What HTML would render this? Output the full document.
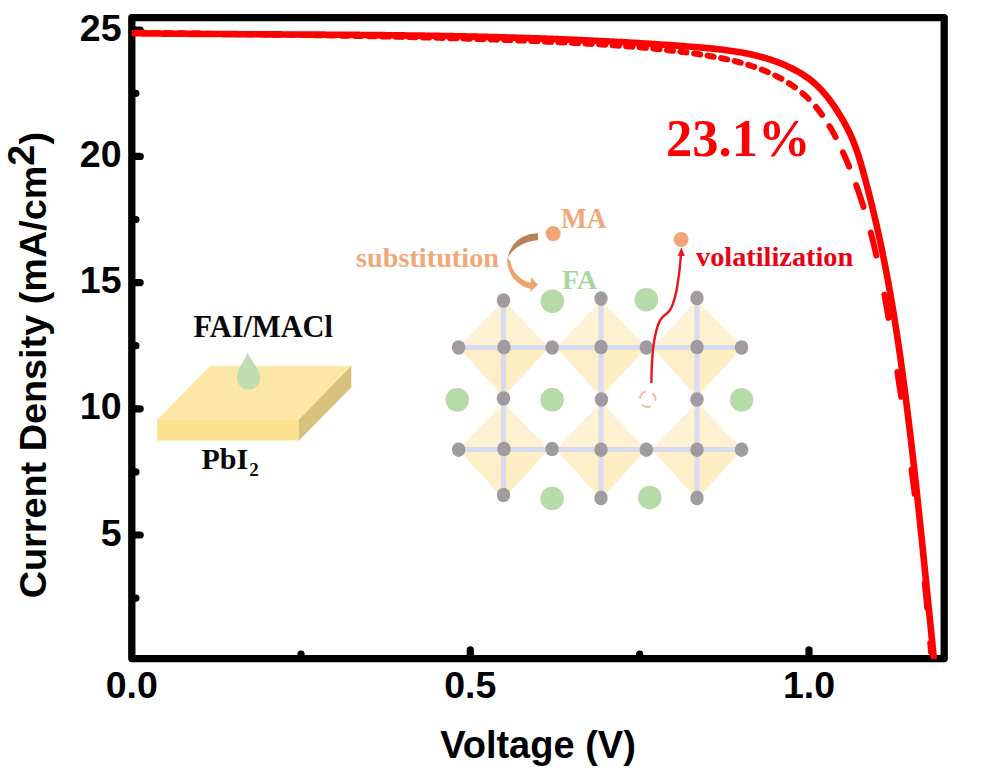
<!DOCTYPE html>
<html><head><meta charset="utf-8"><style>
html,body{margin:0;padding:0;background:#fff;}
svg{display:block;}
.sans{font-family:"Liberation Sans",sans-serif;font-weight:bold;}
.serif{font-family:"Liberation Serif",serif;font-weight:bold;}
</style></head><body>
<svg width="1003" height="773" viewBox="0 0 1003 773">
<rect width="1003" height="773" fill="#fff"/>
<!-- slab -->
<polygon points="210.2,365.8 351.3,365.8 299,419.4 157.2,419.4" fill="#FCE7A6"/>
<polygon points="157.2,419.4 299,419.4 299,440.5 157.2,440.5" fill="#FCDF8F"/>
<polygon points="299,419.4 351.3,365.8 351.3,387.2 299,440.5" fill="#D8C07D"/>
<path d="M247.6,352 C249.5,359 260.2,369 260.2,378 A11.6,11.6 0 1 1 237,378 C237,369 245.7,359 247.6,352 Z" fill="#BEDDB2"/>
<text class="serif" x="193.5" y="336.6" font-size="31" textLength="139.5" lengthAdjust="spacingAndGlyphs" fill="#0A0A0A">FAI/MACl</text>
<text class="serif" x="201.5" y="468.8" font-size="30" fill="#0A0A0A">PbI<tspan font-size="19" dx="1" dy="6.8">2</tspan></text>
<!-- lattice -->
<g><polygon points="458.5,347.5 503.5,300.5 503.5,347.5" fill="#FFF2D4"/><polygon points="503.5,300.5 549.0,347.5 503.5,347.5" fill="#FFF1D0"/><polygon points="549.0,347.5 503.5,397.0 503.5,347.5" fill="#FFEDC3"/><polygon points="503.5,397.0 458.5,347.5 503.5,347.5" fill="#FFEEC8"/><polygon points="458.5,449.5 503.5,402.5 503.5,449.5" fill="#FFF2D4"/><polygon points="503.5,402.5 549.0,449.5 503.5,449.5" fill="#FFF1D0"/><polygon points="549.0,449.5 503.5,499.0 503.5,449.5" fill="#FFEDC3"/><polygon points="503.5,499.0 458.5,449.5 503.5,449.5" fill="#FFEEC8"/><polygon points="556.0,347.5 601.0,300.5 601.0,347.5" fill="#FFF2D4"/><polygon points="601.0,300.5 646.5,347.5 601.0,347.5" fill="#FFF1D0"/><polygon points="646.5,347.5 601.0,397.0 601.0,347.5" fill="#FFEDC3"/><polygon points="601.0,397.0 556.0,347.5 601.0,347.5" fill="#FFEEC8"/><polygon points="556.0,449.5 601.0,402.5 601.0,449.5" fill="#FFF2D4"/><polygon points="601.0,402.5 646.5,449.5 601.0,449.5" fill="#FFF1D0"/><polygon points="646.5,449.5 601.0,499.0 601.0,449.5" fill="#FFEDC3"/><polygon points="601.0,499.0 556.0,449.5 601.0,449.5" fill="#FFEEC8"/><polygon points="652.0,347.5 697.0,300.5 697.0,347.5" fill="#FFF2D4"/><polygon points="697.0,300.5 742.5,347.5 697.0,347.5" fill="#FFF1D0"/><polygon points="742.5,347.5 697.0,397.0 697.0,347.5" fill="#FFEDC3"/><polygon points="697.0,397.0 652.0,347.5 697.0,347.5" fill="#FFEEC8"/><polygon points="652.0,449.5 697.0,402.5 697.0,449.5" fill="#FFF2D4"/><polygon points="697.0,402.5 742.5,449.5 697.0,449.5" fill="#FFF1D0"/><polygon points="742.5,449.5 697.0,499.0 697.0,449.5" fill="#FFEDC3"/><polygon points="697.0,499.0 652.0,449.5 697.0,449.5" fill="#FFEEC8"/></g>
<g stroke="#D7DBEE" stroke-width="5.2"><line x1="458.6" y1="347.5" x2="741.6" y2="347.5"/><line x1="458.6" y1="449.5" x2="741.6" y2="449.5"/><line x1="503.5" y1="300" x2="503.5" y2="498"/><line x1="601" y1="300" x2="601" y2="498"/><line x1="697" y1="300" x2="697" y2="498"/></g>
<g fill="#A09B9E"><ellipse cx="503.5" cy="300.5" rx="6.7" ry="7.3"/><ellipse cx="601" cy="298.6" rx="6.7" ry="7.3"/><ellipse cx="697" cy="298" rx="6.7" ry="7.3"/><ellipse cx="458.6" cy="347.5" rx="6.7" ry="7.3"/><ellipse cx="504" cy="347" rx="6.7" ry="7.3"/><ellipse cx="552.1" cy="347.5" rx="6.7" ry="7.3"/><ellipse cx="601" cy="347" rx="6.7" ry="7.3"/><ellipse cx="646.3" cy="347.5" rx="6.7" ry="7.3"/><ellipse cx="697" cy="347" rx="6.7" ry="7.3"/><ellipse cx="741.6" cy="347.5" rx="6.7" ry="7.3"/><ellipse cx="503.5" cy="398.5" rx="6.7" ry="7.3"/><ellipse cx="601.5" cy="399.5" rx="6.7" ry="7.3"/><ellipse cx="697" cy="399.5" rx="6.7" ry="7.3"/><ellipse cx="458.6" cy="449.7" rx="6.7" ry="7.3"/><ellipse cx="504" cy="449" rx="6.7" ry="7.3"/><ellipse cx="552.1" cy="449" rx="6.7" ry="7.3"/><ellipse cx="601" cy="449.7" rx="6.7" ry="7.3"/><ellipse cx="646.3" cy="449.7" rx="6.7" ry="7.3"/><ellipse cx="697" cy="449.7" rx="6.7" ry="7.3"/><ellipse cx="741.6" cy="449.7" rx="6.7" ry="7.3"/><ellipse cx="503.5" cy="495" rx="6.7" ry="7.3"/><ellipse cx="601" cy="498" rx="6.7" ry="7.3"/><ellipse cx="697" cy="498" rx="6.7" ry="7.3"/></g>
<g fill="#B6DAA8"><circle cx="552.3" cy="301.2" r="11.8"/><circle cx="646.3" cy="299.7" r="11.8"/><circle cx="457.2" cy="399.8" r="11.8"/><circle cx="552.1" cy="399.8" r="11.8"/><circle cx="741.6" cy="399.8" r="11.8"/><circle cx="552.1" cy="498.5" r="11.8"/><circle cx="649.8" cy="497.5" r="11.8"/></g>
<circle cx="647.7" cy="399.2" r="7.8" fill="none" stroke="#F2B49C" stroke-width="1.8" stroke-dasharray="9.26 7.07" stroke-dashoffset="7.35"/>
<!-- substitution arrow -->
<path d="M538,233.2 C524,233.5 511,241 507.5,258.5 C512,249 524,240.6 538,240.2 Z" fill="#B98158"/>
<path d="M507.3,257.5 C506,272 515.5,285.5 531,289 L531,282.8 C520.5,280.5 512,272.5 510.3,261 Z" fill="#F0A46C"/>
<path d="M537.8,284.7 L530.8,277.2 L530.4,292 Z" fill="#F0A46C"/>
<circle cx="553.2" cy="233.6" r="7.5" fill="#F3A574"/>
<text class="serif" x="356" y="266.5" font-size="26.8" textLength="143" lengthAdjust="spacingAndGlyphs" fill="#F0A878">substitution</text>
<text class="serif" x="561" y="227.6" font-size="30" textLength="45.5" lengthAdjust="spacingAndGlyphs" fill="#F0A878">MA</text>
<text class="serif" x="562" y="288.8" font-size="28" fill="#A9D59F">FA</text>
<!-- volatilization -->
<circle cx="681.1" cy="239.4" r="7.5" fill="#F3A574"/>
<path d="M651.4,383 C651.5,360 653,338 658.6,323.5 C661,317 664,315.5 667.5,313 C672,309 675,300 677.5,285 C679.5,273 680.5,262 681,254" fill="none" stroke="#E8141E" stroke-width="2.4"/>
<path d="M681.4,247.3 L677.8,256 L684.8,256 Z" fill="#E8141E"/>
<text class="serif" x="696" y="266" font-size="28.3" fill="#EC0012">volatilization</text>
<text class="serif" x="666" y="156" font-size="52.5" fill="#FC0004">23.1%</text>
<!-- frame -->
<rect x="131.8" y="17.6" width="812.4" height="641" fill="none" stroke="#000" stroke-width="7.3" stroke-linejoin="round"/>
<g stroke="#000" stroke-width="7.2" stroke-linecap="round"><line x1="133" y1="30.2" x2="140.2" y2="30.2"/><line x1="133" y1="156.4" x2="140.2" y2="156.4"/><line x1="133" y1="282.6" x2="140.2" y2="282.6"/><line x1="133" y1="408.8" x2="140.2" y2="408.8"/><line x1="133" y1="535.0" x2="140.2" y2="535.0"/><line x1="133" y1="93.3" x2="135.9" y2="93.3"/><line x1="133" y1="219.5" x2="135.9" y2="219.5"/><line x1="133" y1="345.7" x2="135.9" y2="345.7"/><line x1="133" y1="471.9" x2="135.9" y2="471.9"/><line x1="133" y1="598.1" x2="135.9" y2="598.1"/><line x1="470.3" y1="657" x2="470.3" y2="649.8"/><line x1="809.0" y1="657" x2="809.0" y2="649.8"/><line x1="301.0" y1="657" x2="301.0" y2="654.2"/><line x1="639.7" y1="657" x2="639.7" y2="654.2"/></g>
<!-- curves -->
<clipPath id="pc"><rect x="131.7" y="0" width="812.5" height="659"/></clipPath>
<g clip-path="url(#pc)">
<path d="M138.49,32.71 140.18,32.74 141.87,32.77 143.56,32.79 144.62,32.81 M152.03,32.92 153.72,32.95 155.41,32.97 157.11,33.00 158.16,33.01 M165.57,33.12 167.26,33.15 168.96,33.17 170.65,33.20 171.71,33.21 M179.12,33.32 180.81,33.34 182.51,33.37 184.20,33.39 185.26,33.40 M192.67,33.51 194.37,33.53 196.06,33.55 197.76,33.58 198.82,33.59 M206.23,33.69 207.93,33.72 209.62,33.74 211.32,33.76 212.38,33.78 M219.79,33.88 221.49,33.90 223.19,33.92 224.88,33.95 225.94,33.96 M233.36,34.06 235.06,34.08 236.75,34.11 238.45,34.13 239.30,34.14 M246.93,34.24 248.63,34.27 250.32,34.29 252.02,34.31 252.87,34.33 M260.50,34.43 262.20,34.45 263.89,34.48 265.59,34.50 266.44,34.51 M273.86,34.62 275.56,34.64 277.26,34.67 278.95,34.69 280.01,34.71 M287.44,34.81 289.13,34.84 290.83,34.86 292.53,34.89 293.59,34.91 M301.01,35.02 302.71,35.04 304.41,35.07 306.10,35.10 307.17,35.11 M314.59,35.23 316.29,35.26 317.99,35.28 319.68,35.31 320.74,35.33 M328.17,35.45 329.87,35.48 331.56,35.51 333.26,35.54 334.32,35.55 M341.75,35.68 343.45,35.71 345.14,35.74 346.84,35.77 347.69,35.79 M355.33,35.93 357.02,35.96 358.72,35.99 360.42,36.02 361.27,36.04 M368.90,36.19 370.60,36.22 372.30,36.26 374.00,36.29 374.84,36.31 M382.27,36.46 383.97,36.50 385.66,36.53 387.36,36.57 388.42,36.59 M395.84,36.75 397.54,36.79 399.24,36.83 400.93,36.87 401.99,36.89 M409.42,37.07 411.11,37.11 412.81,37.15 414.51,37.19 415.57,37.21 M422.99,37.40 424.69,37.44 426.38,37.48 428.08,37.53 429.14,37.56 M436.56,37.75 438.25,37.80 439.95,37.84 441.65,37.89 442.71,37.92 M450.12,38.13 451.82,38.18 453.51,38.23 455.21,38.28 456.27,38.31 M463.69,38.53 465.38,38.58 467.08,38.64 468.77,38.69 469.83,38.72 M477.25,38.96 478.94,39.02 480.63,39.07 482.33,39.13 483.39,39.16 M490.80,39.42 492.49,39.48 494.19,39.54 495.88,39.60 496.94,39.63 M504.35,39.90 506.04,39.97 507.74,40.03 509.43,40.09 510.49,40.13 M517.89,40.42 519.59,40.49 521.28,40.55 522.97,40.62 524.03,40.66 M531.43,40.97 533.13,41.04 534.82,41.11 536.51,41.18 537.57,41.23 M544.97,41.55 546.66,41.63 548.35,41.70 550.04,41.78 551.10,41.83 M558.49,42.17 560.18,42.25 561.88,42.33 563.57,42.41 564.62,42.46 M572.02,42.83 573.70,42.91 575.39,43.00 577.08,43.09 578.14,43.14 M585.53,43.54 587.22,43.63 588.91,43.73 590.60,43.82 591.65,43.88 M599.25,44.33 600.94,44.44 602.62,44.55 604.31,44.65 605.16,44.71 M612.75,45.21 614.44,45.33 616.12,45.45 617.81,45.57 618.87,45.65 M626.25,46.20 627.93,46.34 629.62,46.47 631.31,46.61 632.36,46.69 M639.74,47.32 641.42,47.48 643.11,47.63 644.79,47.78 645.85,47.88 M653.43,48.62 655.12,48.79 656.80,48.96 658.49,49.14 659.54,49.25 M666.91,50.06 668.60,50.26 670.28,50.45 671.97,50.65 673.02,50.78 M680.39,51.69 682.07,51.91 683.75,52.13 685.44,52.36 686.49,52.50 M694.07,53.57 695.75,53.81 697.43,54.06 699.12,54.32 700.17,54.48 M707.53,55.64 709.21,55.92 710.89,56.21 712.57,56.50 713.63,56.69 M721.18,58.11 722.85,58.45 724.53,58.79 726.20,59.15 727.24,59.37 M734.75,61.12 736.21,61.49 737.66,61.86 739.11,62.24 740.57,62.64 740.77,62.69 M748.20,64.87 749.64,65.32 751.07,65.79 752.50,66.26 753.93,66.74 754.33,66.88 M761.79,69.62 763.38,70.26 764.96,70.90 766.54,71.56 767.92,72.15 M775.26,75.56 776.78,76.32 778.28,77.09 779.78,77.89 781.27,78.69 781.45,78.80 M788.87,83.20 790.28,84.11 791.67,85.04 793.05,85.98 794.42,86.94 794.93,87.31 M802.45,93.21 803.70,94.30 804.94,95.41 806.16,96.53 807.36,97.68 808.54,98.84 M815.96,106.96 817.02,108.25 818.07,109.55 819.09,110.86 820.11,112.19 821.11,113.53 822.09,114.89 M829.50,126.17 830.37,127.62 831.22,129.09 832.07,130.57 832.91,132.05 833.73,133.54 834.54,135.04 835.35,136.55 835.64,137.12 M843.03,152.35 843.64,153.72 844.25,155.09 844.86,156.46 845.54,158.03 846.22,159.61 846.89,161.18 847.55,162.76 848.21,164.34 848.86,165.92 849.18,166.71 M856.18,185.02 856.75,186.62 857.31,188.22 857.87,189.83 858.42,191.43 858.97,193.04 859.52,194.65 860.05,196.26 860.58,197.87 861.11,199.48 861.63,201.10 862.15,202.71 862.66,204.33 863.16,205.95 863.48,206.96 M870.76,232.63 871.19,234.27 871.61,235.91 872.03,237.55 872.44,239.19 872.85,240.84 873.26,242.48 873.66,244.13 874.06,245.77 874.45,247.42 874.84,249.07 875.23,250.72 875.61,252.37 875.99,254.02 876.32,255.46 M884.36,294.69 884.67,296.36 884.97,298.03 885.28,299.70 885.58,301.37 885.88,303.04 886.18,304.71 886.48,306.38 886.78,308.05 887.07,309.72 887.37,311.39 887.66,313.06 887.95,314.73 888.24,316.41 888.49,317.87 M897.33,372.09 897.60,373.76 897.86,375.44 898.12,377.11 898.38,378.79 898.64,380.47 898.90,382.14 899.16,383.82 899.42,385.50 899.68,387.17 899.93,388.85 900.19,390.52 900.44,392.20 900.70,393.88 900.95,395.55 901.14,396.81 M911.51,469.61 911.73,471.29 911.95,472.97 912.17,474.65 912.40,476.33 912.62,478.02 912.84,479.70 913.05,481.38 913.27,483.06 913.49,484.74 913.71,486.42 913.92,488.10 914.14,489.78 914.35,491.46 914.56,493.15 914.67,493.99 M924.80,583.05 924.97,584.74 925.14,586.42 925.31,588.11 925.47,589.80 925.64,591.49 925.81,593.18 925.97,594.86 926.13,596.55 926.29,598.24 926.46,599.93 926.62,601.62 926.78,603.31 926.93,605.00 927.09,606.69 927.21,607.95 M930.26,643.04 930.40,644.73 930.53,646.42 930.67,648.11 930.80,649.81 930.94,651.50 930.97,651.92" fill="none" stroke="#FF0000" stroke-width="6" stroke-linecap="round" stroke-linejoin="round"/>
<path d="M131.47,33.21 133.19,33.23 134.92,33.25 136.64,33.28 138.37,33.30 140.09,33.32 141.82,33.34 143.54,33.37 145.26,33.39 146.99,33.41 148.71,33.43 150.44,33.45 152.16,33.47 153.88,33.49 155.61,33.51 157.33,33.53 159.05,33.55 160.78,33.56 162.50,33.58 164.22,33.60 165.95,33.62 167.67,33.64 169.39,33.65 171.12,33.67 172.84,33.69 174.56,33.70 176.28,33.72 178.01,33.74 179.73,33.75 181.45,33.77 183.17,33.78 184.90,33.80 186.62,33.81 188.34,33.83 190.06,33.84 191.79,33.86 193.51,33.87 195.23,33.88 196.95,33.90 198.67,33.91 200.39,33.92 202.12,33.94 203.84,33.95 205.56,33.96 207.28,33.98 209.00,33.99 210.72,34.00 212.44,34.01 214.17,34.02 215.89,34.04 217.61,34.05 219.33,34.06 221.05,34.07 222.77,34.08 224.49,34.09 226.21,34.10 227.93,34.11 229.65,34.13 231.37,34.14 233.09,34.15 234.81,34.16 236.54,34.17 238.26,34.18 239.98,34.19 241.70,34.20 243.42,34.21 245.14,34.22 246.86,34.23 248.58,34.24 250.30,34.25 252.02,34.26 253.74,34.27 255.46,34.28 257.17,34.29 258.89,34.30 260.61,34.31 262.33,34.31 264.05,34.32 265.77,34.33 267.49,34.34 269.21,34.35 270.93,34.36 272.65,34.37 274.37,34.38 276.09,34.39 277.81,34.40 279.53,34.41 281.25,34.42 282.96,34.43 284.68,34.44 286.40,34.45 288.12,34.46 289.84,34.47 291.56,34.47 293.28,34.48 295.00,34.49 296.71,34.50 298.43,34.51 300.15,34.52 301.87,34.53 303.59,34.54 305.31,34.55 307.03,34.56 308.74,34.57 310.46,34.58 312.18,34.59 313.90,34.60 315.62,34.62 317.34,34.63 319.05,34.64 320.77,34.65 322.49,34.66 324.21,34.67 325.93,34.68 327.64,34.69 329.36,34.70 331.08,34.72 332.80,34.73 334.52,34.74 336.23,34.75 337.95,34.76 339.67,34.78 341.39,34.79 343.11,34.80 344.82,34.81 346.54,34.83 348.26,34.84 349.98,34.85 351.69,34.87 353.41,34.88 355.13,34.90 356.85,34.91 358.56,34.92 360.28,34.94 362.00,34.95 363.72,34.97 365.43,34.98 367.15,35.00 368.87,35.02 370.59,35.03 372.30,35.05 374.02,35.06 375.74,35.08 377.46,35.10 379.17,35.11 380.89,35.13 382.61,35.15 384.33,35.17 386.04,35.19 387.76,35.20 389.48,35.22 391.20,35.24 392.91,35.26 394.63,35.28 396.35,35.30 398.06,35.32 399.78,35.34 401.50,35.36 403.22,35.39 404.93,35.41 406.65,35.43 408.37,35.45 410.09,35.47 411.80,35.50 413.52,35.52 415.24,35.54 416.95,35.57 418.67,35.59 420.39,35.62 422.11,35.64 423.82,35.67 425.54,35.69 427.26,35.72 428.98,35.74 430.69,35.77 432.41,35.80 434.13,35.83 435.84,35.85 437.56,35.88 439.28,35.91 441.00,35.94 442.71,35.97 444.43,36.00 446.15,36.03 447.87,36.06 449.58,36.09 451.30,36.12 453.02,36.16 454.73,36.19 456.45,36.22 458.17,36.26 459.89,36.29 461.60,36.32 463.32,36.36 465.04,36.39 466.76,36.43 468.47,36.47 470.19,36.50 471.91,36.54 473.63,36.58 475.34,36.62 477.06,36.66 478.78,36.70 480.50,36.73 482.21,36.78 483.93,36.82 485.65,36.86 487.37,36.90 489.08,36.94 490.80,36.98 492.52,37.03 494.24,37.07 495.96,37.12 497.67,37.16 499.39,37.21 501.11,37.25 502.83,37.30 504.54,37.35 506.26,37.39 507.98,37.44 509.70,37.49 511.42,37.54 513.13,37.59 514.85,37.64 516.57,37.69 518.29,37.75 520.01,37.80 521.73,37.85 523.44,37.91 525.16,37.96 526.88,38.01 528.60,38.07 530.32,38.13 532.04,38.18 533.75,38.24 535.47,38.30 537.19,38.36 538.91,38.42 540.63,38.48 542.35,38.54 544.07,38.60 545.78,38.66 547.50,38.72 549.22,38.79 550.94,38.85 552.66,38.92 554.38,38.98 556.10,39.05 557.82,39.12 559.53,39.18 561.25,39.25 562.97,39.32 564.69,39.39 566.41,39.46 568.13,39.53 569.85,39.60 571.57,39.68 573.29,39.75 575.01,39.82 576.73,39.90 578.45,39.97 580.17,40.05 581.89,40.13 583.61,40.20 585.33,40.28 587.05,40.36 588.77,40.44 590.49,40.52 592.21,40.61 593.93,40.69 595.65,40.77 597.37,40.85 599.09,40.94 600.81,41.03 602.53,41.11 604.25,41.20 605.97,41.29 607.69,41.38 609.41,41.47 611.13,41.56 612.85,41.65 614.57,41.74 616.29,41.83 618.01,41.93 619.73,42.02 621.45,42.12 623.18,42.21 624.90,42.31 626.62,42.41 628.34,42.51 630.06,42.61 631.78,42.71 633.50,42.81 635.22,42.91 636.95,43.02 638.67,43.12 640.39,43.22 642.11,43.33 643.83,43.44 645.55,43.55 647.28,43.65 649.00,43.76 650.72,43.87 652.44,43.99 654.17,44.10 655.89,44.21 657.61,44.33 659.33,44.44 661.06,44.56 662.78,44.68 664.50,44.79 666.22,44.91 667.95,45.03 669.67,45.15 671.39,45.28 673.12,45.40 674.84,45.52 676.56,45.65 678.29,45.77 680.01,45.90 681.73,46.03 683.46,46.16 685.18,46.29 686.90,46.42 688.63,46.55 690.35,46.68 692.08,46.82 693.80,46.95 695.52,47.09 697.25,47.23 698.97,47.37 700.69,47.52 702.42,47.66 704.14,47.81 705.86,47.97 707.58,48.12 709.30,48.29 711.02,48.45 712.74,48.62 714.45,48.80 716.17,48.98 717.88,49.17 719.59,49.36 721.30,49.56 723.01,49.76 724.72,49.97 726.42,50.19 728.13,50.42 729.83,50.66 731.53,50.90 733.23,51.15 734.92,51.41 736.61,51.68 738.30,51.96 739.99,52.25 741.68,52.55 743.36,52.85 745.04,53.17 746.71,53.50 748.38,53.84 750.05,54.20 751.72,54.56 753.38,54.94 755.04,55.33 756.70,55.73 758.35,56.14 760.00,56.57 761.64,57.01 763.28,57.47 764.92,57.94 766.55,58.43 768.18,58.93 769.80,59.44 771.42,59.97 773.04,60.52 774.65,61.08 776.25,61.66 777.85,62.25 779.45,62.87 781.04,63.50 782.63,64.14 784.20,64.81 785.78,65.49 787.34,66.20 788.90,66.92 790.45,67.66 791.99,68.42 793.51,69.20 795.03,70.00 796.54,70.82 798.03,71.66 799.51,72.52 800.98,73.41 802.43,74.32 803.87,75.24 805.29,76.20 806.70,77.17 808.09,78.17 809.46,79.19 810.81,80.23 812.15,81.30 813.46,82.39 814.76,83.51 816.03,84.65 817.28,85.82 818.51,87.01 819.72,88.23 820.91,89.47 822.08,90.73 823.22,92.01 824.35,93.31 825.46,94.63 826.56,95.97 827.63,97.32 828.69,98.69 829.74,100.08 830.77,101.47 831.78,102.88 832.78,104.30 833.77,105.73 834.74,107.17 835.70,108.62 836.65,110.07 837.59,111.53 838.52,112.99 839.44,114.46 840.34,115.93 841.23,117.41 842.11,118.89 842.98,120.38 843.84,121.87 844.68,123.37 845.50,124.88 846.32,126.39 847.11,127.91 847.89,129.44 848.66,130.97 849.41,132.51 850.14,134.05 850.85,135.60 851.55,137.17 852.22,138.73 852.89,140.31 853.53,141.89 854.16,143.48 854.77,145.07 855.37,146.67 855.96,148.28 856.53,149.89 857.09,151.50 857.64,153.13 858.17,154.75 858.70,156.38 859.21,158.02 859.72,159.65 860.22,161.30 860.71,162.94 861.19,164.59 861.66,166.24 862.13,167.89 862.59,169.55 863.05,171.21 863.50,172.86 863.95,174.53 864.40,176.19 864.84,177.85 865.28,179.51 865.72,181.18 866.16,182.84 866.59,184.50 867.03,186.17 867.46,187.83 867.89,189.50 868.32,191.17 868.75,192.83 869.17,194.50 869.60,196.17 870.02,197.84 870.44,199.50 870.85,201.17 871.27,202.84 871.68,204.51 872.09,206.18 872.50,207.85 872.91,209.53 873.31,211.20 873.71,212.87 874.11,214.54 874.50,216.22 874.89,217.89 875.29,219.57 875.67,221.24 876.06,222.92 876.44,224.59 876.82,226.27 877.20,227.95 877.58,229.62 877.95,231.30 878.32,232.98 878.69,234.66 879.06,236.34 879.42,238.02 879.79,239.70 880.15,241.38 880.51,243.06 880.86,244.74 881.21,246.43 881.57,248.11 881.92,249.79 882.26,251.47 882.61,253.16 882.95,254.84 883.29,256.53 883.63,258.21 883.97,259.90 884.30,261.58 884.63,263.27 884.96,264.96 885.29,266.64 885.62,268.33 885.94,270.02 886.26,271.71 886.58,273.40 886.90,275.09 887.22,276.77 887.53,278.46 887.85,280.15 888.16,281.85 888.47,283.54 888.77,285.23 889.08,286.92 889.38,288.61 889.68,290.30 889.98,292.00 890.28,293.69 890.58,295.38 890.87,297.07 891.16,298.77 891.46,300.46 891.74,302.16 892.03,303.85 892.32,305.55 892.60,307.24 892.89,308.94 893.17,310.63 893.45,312.33 893.72,314.03 894.00,315.72 894.27,317.42 894.55,319.12 894.82,320.82 895.09,322.51 895.36,324.21 895.63,325.91 895.89,327.61 896.16,329.31 896.42,331.01 896.68,332.71 896.94,334.41 897.20,336.11 897.46,337.81 897.71,339.51 897.97,341.21 898.22,342.91 898.47,344.61 898.72,346.31 898.97,348.01 899.22,349.72 899.46,351.42 899.71,353.12 899.95,354.82 900.20,356.53 900.44,358.23 900.68,359.93 900.92,361.63 901.16,363.34 901.39,365.04 901.63,366.75 901.87,368.45 902.10,370.15 902.33,371.86 902.56,373.56 902.79,375.27 903.02,376.97 903.25,378.68 903.48,380.38 903.71,382.09 903.93,383.79 904.16,385.50 904.38,387.20 904.60,388.91 904.83,390.61 905.05,392.32 905.27,394.02 905.49,395.73 905.70,397.44 905.92,399.14 906.14,400.85 906.35,402.56 906.57,404.26 906.78,405.97 907.00,407.68 907.21,409.38 907.42,411.09 907.63,412.80 907.85,414.50 908.06,416.21 908.26,417.92 908.47,419.62 908.68,421.33 908.89,423.04 909.10,424.75 909.30,426.45 909.51,428.16 909.71,429.87 909.92,431.58 910.12,433.28 910.32,434.99 910.52,436.70 910.73,438.41 910.93,440.12 911.13,441.82 911.33,443.53 911.53,445.24 911.72,446.95 911.92,448.66 912.12,450.36 912.32,452.07 912.51,453.78 912.71,455.49 912.90,457.20 913.10,458.91 913.29,460.62 913.49,462.32 913.68,464.03 913.87,465.74 914.06,467.45 914.26,469.16 914.45,470.87 914.64,472.58 914.83,474.29 915.02,475.99 915.21,477.70 915.39,479.41 915.58,481.12 915.77,482.83 915.96,484.54 916.14,486.25 916.33,487.96 916.52,489.67 916.70,491.38 916.89,493.09 917.07,494.80 917.26,496.51 917.44,498.22 917.63,499.93 917.81,501.64 917.99,503.35 918.17,505.06 918.36,506.77 918.54,508.48 918.72,510.19 918.90,511.90 919.08,513.61 919.26,515.32 919.44,517.03 919.62,518.74 919.80,520.45 919.98,522.16 920.16,523.87 920.34,525.58 920.52,527.29 920.70,529.00 920.88,530.71 921.05,532.42 921.23,534.13 921.41,535.84 921.58,537.55 921.76,539.26 921.94,540.97 922.11,542.68 922.29,544.39 922.47,546.10 922.64,547.81 922.82,549.52 922.99,551.23 923.17,552.94 923.34,554.65 923.52,556.36 923.69,558.07 923.87,559.78 924.04,561.50 924.22,563.21 924.39,564.92 924.56,566.63 924.74,568.34 924.91,570.05 925.08,571.76 925.26,573.47 925.43,575.18 925.60,576.89 925.78,578.60 925.95,580.31 926.12,582.02 926.30,583.74 926.47,585.45 926.64,587.16 926.82,588.87 926.99,590.58 927.16,592.29 927.33,594.00 927.51,595.71 927.68,597.42 927.85,599.13 928.03,600.84 928.20,602.55 928.37,604.27 928.54,605.98 928.72,607.69 928.89,609.40 929.06,611.11 929.24,612.82 929.41,614.53 929.58,616.24 929.75,617.95 929.93,619.66 930.10,621.37 930.27,623.08 930.45,624.80 930.62,626.51 930.80,628.22 930.97,629.93 931.14,631.64 931.32,633.35 931.49,635.06 931.67,636.77 931.84,638.48 932.01,640.19 932.19,641.90 932.36,643.61 932.54,645.33 932.71,647.04 932.89,648.75 933.07,650.46 933.24,652.17 933.42,653.88 933.59,655.59 933.77,657.30 933.95,659.01 934.12,660.72 934.26,662.00" fill="none" stroke="#FF0000" stroke-width="6.6" stroke-linejoin="round"/>
</g>
<g class="sans" font-size="37.5" fill="#000"><text x="121.5" y="40.7" text-anchor="end">25</text><text x="121.5" y="166.9" text-anchor="end">20</text><text x="121.5" y="293.1" text-anchor="end">15</text><text x="121.5" y="419.3" text-anchor="end">10</text><text x="121.5" y="545.5" text-anchor="end">5</text><text x="131.7" y="698" text-anchor="middle">0.0</text><text x="470.3" y="698" text-anchor="middle">0.5</text><text x="809.0" y="698" text-anchor="middle">1.0</text></g>
<text class="sans" x="538" y="758" font-size="38" text-anchor="middle" fill="#000">Voltage (V)</text>
<text class="sans" transform="translate(46,598.3) rotate(-90)" font-size="37.8" fill="#000">Current Density (mA/cm<tspan dy="-12">2</tspan><tspan dy="12">)</tspan></text>
</svg>
</body></html>
